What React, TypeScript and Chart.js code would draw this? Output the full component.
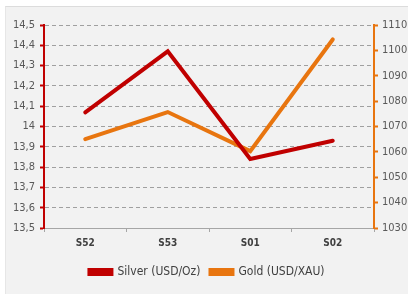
import React, { useEffect, useRef } from "react";
import { Chart, registerables } from "chart.js";

Chart.register(...registerables);

const categories = ["S52", "S53", "S01", "S02"];
const silver = [14.07, 14.37, 13.84, 13.93];
const gold = [1065, 1075.7, 1060.3, 1104.3];
const silverLabel = "Silver (USD/Oz)";
const goldLabel = "Gold (USD/XAU)";

const RED = "#c00000";
const ORANGE = "#e8750f";
const FONT = "'Liberation Sans Narrow', 'DejaVu Sans Condensed', sans-serif";

export default function App() {
  const ref = useRef<HTMLCanvasElement | null>(null);

  useEffect(() => {
    if (!ref.current) return;
    const chart = new Chart(ref.current, {
      type: "line",
      data: {
        labels: categories,
        datasets: [
          {
            label: silverLabel,
            data: silver,
            borderColor: RED,
            backgroundColor: RED,
            borderWidth: 4,
            borderCapStyle: "round",
            borderJoinStyle: "miter",
            pointRadius: 0,
            yAxisID: "y",
            order: 1,
          },
          {
            label: goldLabel,
            data: gold,
            borderColor: ORANGE,
            backgroundColor: ORANGE,
            borderWidth: 4,
            borderCapStyle: "round",
            borderJoinStyle: "miter",
            pointRadius: 0,
            yAxisID: "y1",
            order: 2,
          },
        ],
      },
      options: {
        animation: false,
        responsive: false,
        maintainAspectRatio: false,
        layout: { padding: { top: 18, bottom: 6, left: 0, right: 0 } },
        plugins: {
          tooltip: { enabled: false },
          legend: {
            position: "bottom",
            labels: {
              boxWidth: 22,
              boxHeight: 4,
              padding: 10,
              color: "#404040",
              font: { family: FONT, size: 12 },
            },
          },
        },
        scales: {
          x: {
            offset: true,
            grid: {
              offset: true,
              drawOnChartArea: false,
              drawTicks: true,
              tickLength: 4,
              tickColor: "#a6a6a6",
              tickWidth: 1,
            },
            border: { display: true, color: "#a6a6a6", width: 1 },
            ticks: {
              color: "#404040",
              padding: 5,
              font: { family: FONT, size: 10, weight: "bold" },
            },
            afterFit: (axis: any) => {
              axis.height = 28;
            },
          },
          y: {
            position: "left",
            min: 13.5,
            max: 14.5,
            grid: {
              color: "#a0a0a0",
              lineWidth: 1,
              drawTicks: true,
              tickLength: 4,
              tickColor: RED,
              tickWidth: 2,
              tickBorderDash: [],
            },
            border: { display: true, color: RED, width: 2, dash: [4, 3] },
            ticks: {
              stepSize: 0.1,
              color: "#595959",
              padding: 5,
              font: { family: FONT, size: 11 },
              callback: (v: any) => String(Math.round(Number(v) * 10) / 10).replace(".", ","),
            },
            afterFit: (axis: any) => {
              axis.width = 38;
            },
          },
          y1: {
            position: "right",
            min: 1030,
            max: 1110,
            grid: {
              drawOnChartArea: false,
              drawTicks: true,
              tickLength: 4,
              tickColor: ORANGE,
              tickWidth: 2,
            },
            border: { display: true, color: ORANGE, width: 2 },
            ticks: {
              stepSize: 10,
              color: "#595959",
              padding: 4,
              font: { family: FONT, size: 11 },
              callback: (v: any) => String(Math.round(Number(v))),
            },
            afterFit: (axis: any) => {
              axis.width = 34;
            },
          },
        },
      },
    });
    return () => chart.destroy();
  }, []);

  return (
    <div style={{ position: "fixed", left: 0, top: 0, width: 408, height: 294, background: "#ffffff" }}>
      <div
        style={{
          position: "absolute",
          left: 5,
          top: 6,
          width: 403,
          height: 288,
          background: "#f2f2f2",
          borderTop: "1px solid #dcdcdc",
          borderLeft: "1px solid #e6e6e6",
          boxSizing: "border-box",
        }}
      >
        <canvas ref={ref} width={402} height={287} style={{ display: "block" }} />
      </div>
    </div>
  );
}
